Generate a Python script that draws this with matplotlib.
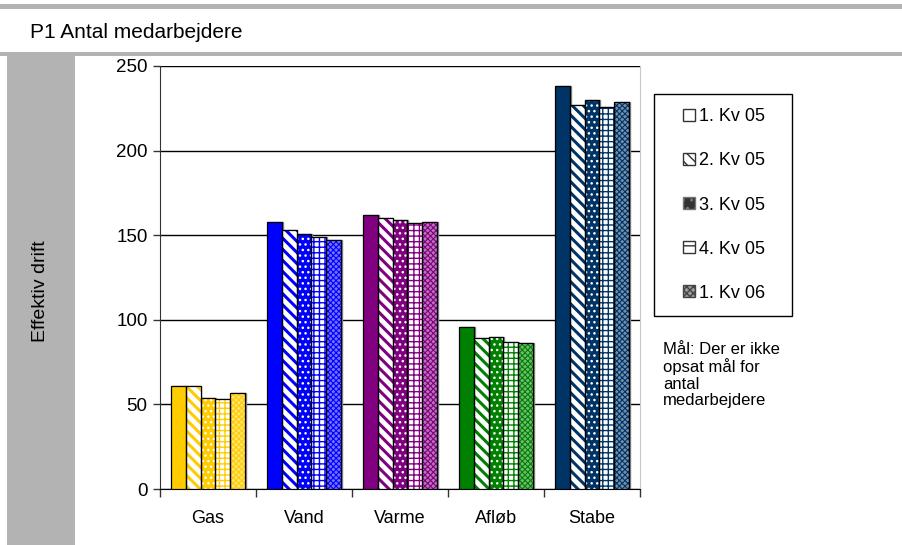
import numpy as np
import matplotlib
matplotlib.use('Agg')
import matplotlib.pyplot as plt
from matplotlib.patches import Patch, Rectangle
from matplotlib.colors import to_rgb

plt.rcParams['font.family'] = ['Liberation Sans', 'DejaVu Sans']

# data
categories = ['Gas', 'Vand', 'Varme', 'Afløb', 'Stabe']
series_names = ['1. Kv 05', '2. Kv 05', '3. Kv 05', '4. Kv 05', '1. Kv 06']
kv1_05 = [61, 158, 162, 96, 238]
kv2_05 = [61, 153, 160, 89, 227]
kv3_05 = [54, 151, 159, 90, 230]
kv4_05 = [53, 149, 157, 87, 226]
kv1_06 = [57, 147, 158, 86, 229]
cat_colors = ['#FFCC00', '#0000FF', '#800080', '#008000', '#003366']

series = [kv1_05, kv2_05, kv3_05, kv4_05, kv1_06]

fig = plt.figure(figsize=(9.03, 5.45), dpi=100)
gray = '#B3B3B3'

# background frame pieces
fig.patches.append(Rectangle((0, 1 - 9 / 545), 1, 5 / 545, transform=fig.transFigure,
                             facecolor=gray, edgecolor='none', zorder=0))
fig.patches.append(Rectangle((0, 1 - 56 / 545), 1, 4 / 545, transform=fig.transFigure,
                             facecolor=gray, edgecolor='none', zorder=0))
fig.patches.append(Rectangle((7 / 903, 0), 68 / 903, 1 - 56 / 545, transform=fig.transFigure,
                             facecolor=gray, edgecolor='none', zorder=0))

fig.text(30 / 903, 1 - 33 / 545, 'P1 Antal medarbejdere', fontsize=15, va='center', ha='left')
fig.text(41 / 903, 1 - 291 / 545, 'Effektiv drift', fontsize=14, rotation=90,
         va='center', ha='center')

ax = fig.add_axes([160 / 903, 1 - 489 / 545, 480 / 903, 423 / 545])

x = np.arange(len(categories))
w = 0.154


def lighten(c, f):
    r, g, b = to_rgb(c)
    return (r + (1 - r) * f, g + (1 - g) * f, b + (1 - b) * f)


styles = [
    dict(face=lambda c: c, hatch=None, hcol=lambda c: c, hlw=1.0),
    dict(face=lambda c: 'white', hatch='\\\\\\', hcol=lambda c: c, hlw=2.2),
    dict(face=lambda c: c, hatch='...', hcol=lambda c: 'white', hlw=1.0),
    dict(face=lambda c: 'white', hatch='+++', hcol=lambda c: c, hlw=1.0),
    dict(face=lambda c: lighten(c, 0.45), hatch='xxxxxx', hcol=lambda c: c, hlw=0.8),
]

for i, (vals, st) in enumerate(zip(series, styles)):
    pos = x + (i - 2) * w
    with plt.rc_context({'hatch.linewidth': st['hlw']}):
        bars = ax.bar(pos, vals, w, color=[st['face'](c) for c in cat_colors],
                      edgecolor=[st['hcol'](c) for c in cat_colors], linewidth=0,
                      hatch=st['hatch'], zorder=3)
        for b in bars:
            if hasattr(b, 'set_hatch_linewidth'):
                b.set_hatch_linewidth(st['hlw'])
    # shadow + outline
    ax.bar(pos + 0.008, vals, w, fill=False, edgecolor='#888888', linewidth=1.0, zorder=2)
    ax.bar(pos, vals, w, fill=False, edgecolor='black', linewidth=0.9, zorder=4)

ax.set_ylim(0, 250)
ax.set_xlim(-0.5, 4.5)
ax.set_yticks([0, 50, 100, 150, 200, 250])
ax.yaxis.grid(True, color='black', linewidth=1.0, zorder=1)
ax.set_axisbelow(True)
ax.tick_params(axis='y', labelsize=13.5, length=5, width=1, color='#333333', pad=4)

ax.set_xticks(x)
ax.set_xticklabels(categories, fontsize=13)
ax.tick_params(axis='x', length=0, pad=15)
ax.set_xticks(np.arange(-0.5, 5.0, 1.0), minor=True)
ax.tick_params(axis='x', which='minor', length=6, width=1, color='#333333')

ax.spines['top'].set_visible(False)
ax.spines['right'].set_color('#C8C8C8')
ax.spines['left'].set_color('#333333')
ax.spines['bottom'].set_color('black')

# legend box
fig.patches.append(Rectangle((654 / 903, 1 - 316 / 545), 138 / 903, 222 / 545,
                             transform=fig.transFigure, facecolor='white',
                             edgecolor='black', linewidth=1.0, zorder=1))
handles = [
    Patch(facecolor='white', edgecolor='#333333'),
    Patch(facecolor='white', edgecolor='#333333', hatch='\\\\\\'),
    Patch(facecolor='#333333', edgecolor='#777777', hatch='..'),
    Patch(facecolor='white', edgecolor='#333333', hatch='--'),
    Patch(facecolor='#999999', edgecolor='#444444', hatch='xxxxx'),
]
fig.legend(handles, series_names, loc='center', bbox_to_anchor=(724 / 903, 1 - 205 / 545),
           frameon=False, fontsize=13, handlelength=0.67, handleheight=0.67,
           handletextpad=0.2, labelspacing=1.5)

fig.text(663 / 903, 1 - 342 / 545, 'Mål: Der er ikke\nopsat mål for\nantal\nmedarbejdere',
         fontsize=12, va='top', ha='left', linespacing=1.1)

fig.savefig('out.png', dpi=100)
